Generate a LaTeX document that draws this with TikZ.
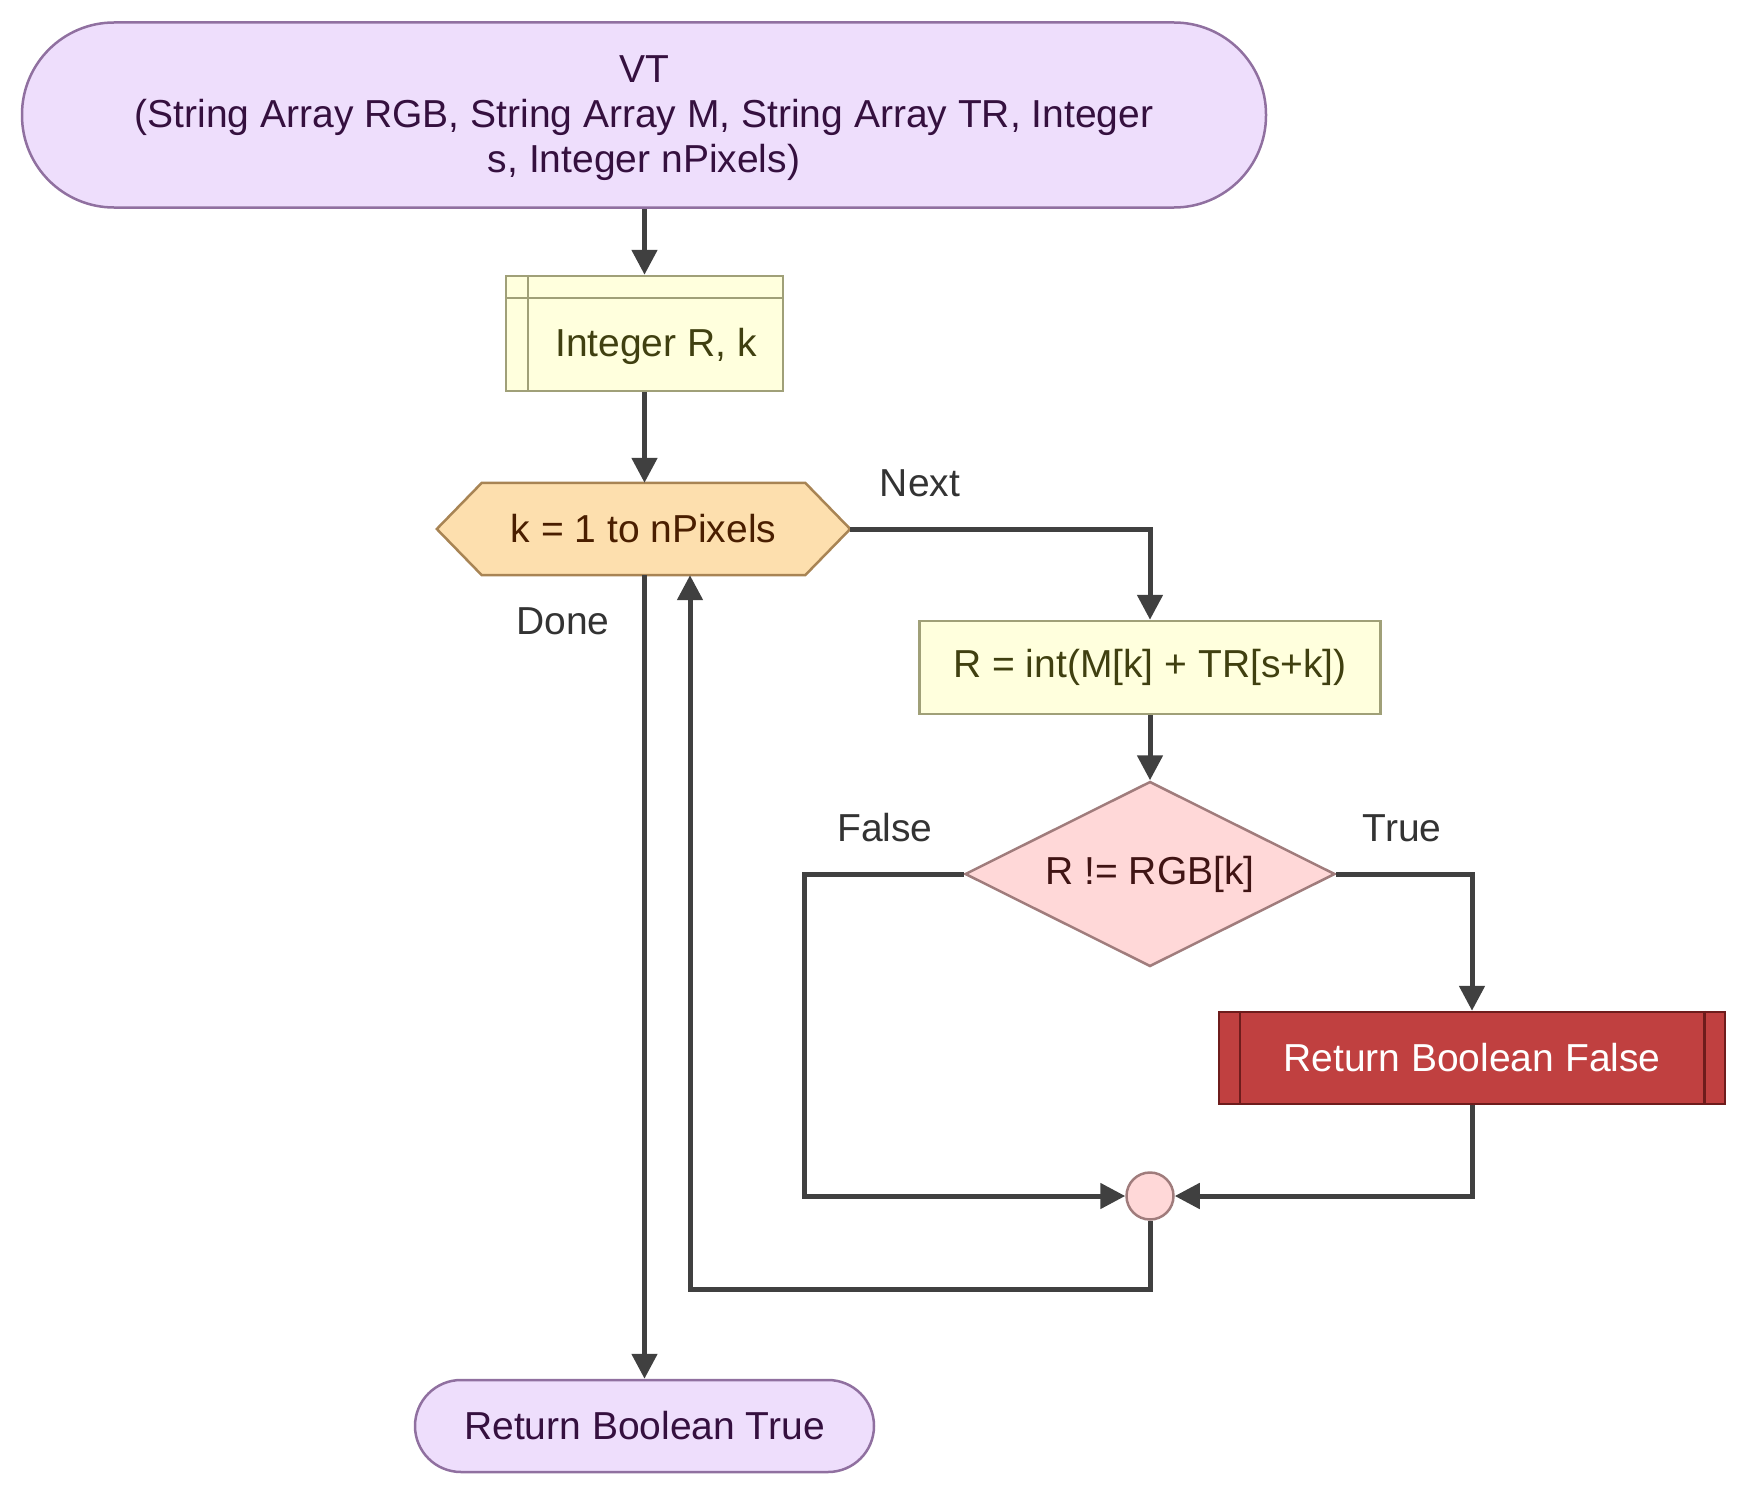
\documentclass[tikz,border=0pt]{standalone}
\usepackage{fontspec}
\setmainfont{Liberation Sans}
\usetikzlibrary{arrows.meta,shapes.geometric,calc,backgrounds}
\definecolor{termfill}{HTML}{EEDEFC}
\definecolor{termdraw}{HTML}{9070A0}
\definecolor{termtext}{HTML}{35103F}
\definecolor{procfill}{HTML}{FFFFDD}
\definecolor{procdraw}{HTML}{A0A078}
\definecolor{proctext}{HTML}{404010}
\definecolor{loopfill}{HTML}{FDDFAE}
\definecolor{loopdraw}{HTML}{A88454}
\definecolor{looptext}{HTML}{4A1E00}
\definecolor{decfill}{HTML}{FFD8D8}
\definecolor{decdraw}{HTML}{A07C7C}
\definecolor{dectext}{HTML}{401414}
\definecolor{retfill}{HTML}{C04040}
\definecolor{retdraw}{HTML}{6E1C1C}
\definecolor{edgecol}{HTML}{404040}
\definecolor{labcol}{HTML}{333333}
\tikzset{
  base/.style={font=\fontsize{39}{45}\selectfont, inner sep=0pt, align=center},
  term/.style={base, draw=termdraw, fill=termfill, text=termtext, line width=2.5pt, rounded corners=92pt},
  procbox/.style={base, draw=procdraw, fill=procfill, text=proctext, line width=2.5pt},
  dec/.style={base, diamond, aspect=2, draw=decdraw, fill=decfill, text=dectext, line width=2.5pt, minimum width=370pt, minimum height=185pt},
  retbox/.style={base, draw=retdraw, fill=retfill, text=white, line width=2.5pt},
  junc/.style={circle, draw=decdraw, fill=decfill, line width=2.5pt, minimum size=47pt, inner sep=0pt},
  edge/.style={draw=edgecol, line width=5pt, -{Triangle[length=25pt,width=25pt]}},
  lab/.style={base, text=labcol}
}
\begin{document}
\begin{tikzpicture}[x=1pt,y=-1pt]
\useasboundingbox (0,0) rectangle (1749,1496);
% nodes
\node[term, minimum width=1244pt, minimum height=185pt] (start) at (644,115) {};
\node[base, text=termtext] (startt) at (644,118.5)
  {VT\\(String Array RGB, String Array M, String Array TR, Integer\\s, Integer nPixels)};
\node[procbox, minimum width=277pt, minimum height=115pt] (decl) at (644.5,333.5) {};
\draw[procdraw, line width=2.5pt] ($(decl.north west)+(23,0)$) -- ($(decl.south west)+(23,0)$);
\draw[procdraw, line width=2.5pt] ($(decl.north west)+(0,23)$) -- ($(decl.north east)+(0,23)$);
\node[base, text=proctext] (declt) at (656,346) {Integer R, k};
\node[base, text=looptext, minimum width=413pt, minimum height=92pt] (loop) at (643.5,529) {k = 1 to nPixels};
\begin{scope}[on background layer]
\draw[draw=loopdraw, fill=loopfill, line width=2.5pt] (loop.west) -- ($(loop.north west)+(45,0)$) -- ($(loop.north east)+(-45,0)$) -- (loop.east) -- ($(loop.south east)+(-45,0)$) -- ($(loop.south west)+(45,0)$) -- cycle;
\end{scope}
\node[procbox, minimum width=461pt, minimum height=93pt] (calc) at (1150,667.5) {R = int(M[k] + TR[s+k])};
\node[dec] (cond) at (1150,874) {R != RGB[k]};
\node[retbox, minimum width=506pt, minimum height=92pt] (rfalse) at (1472,1058) {Return Boolean False};
\draw[retdraw, line width=2.5pt] ($(rfalse.north west)+(22,0)$) -- ($(rfalse.south west)+(22,0)$);
\draw[retdraw, line width=2.5pt] ($(rfalse.north east)+(-22,0)$) -- ($(rfalse.south east)+(-22,0)$);
\node[junc] (join) at (1150,1196) {};
\node[term, minimum width=459pt, minimum height=92pt, rounded corners=46pt] (rtrue) at (644.5,1426) {Return Boolean True};
% labels
\node[lab] (lnext) at (920,483) {Next};
\node[lab] (ldone) at (563,621) {Done};
\node[lab] (lfalse) at (885,828) {False};
\node[lab] (ltrue) at (1402,828) {True};
% connectors
\draw[edge] (start.south -| decl.north) -- (decl.north);
\draw[edge] (decl.south) -- (decl.south |- loop.north);
\draw[edge] (loop.east) -| (calc.north);
\draw[edge] (calc.south) -- (cond.north);
\coordinate (fcorner) at (804,874);
\draw[edge] (cond.west) -- (fcorner) |- (join.west);
\draw[edge] (cond.east) -| (rfalse.north);
\draw[edge] (rfalse.south) |- (join.east);
\coordinate (back1) at (1150,1289);
\coordinate (back2) at (690,1289);
\draw[edge] (join.south) -- (back1) -- (back2) -- (back2 |- loop.south);
\draw[edge] (loop.south -| rtrue.north) -- (rtrue.north);
\end{tikzpicture}
\end{document}
